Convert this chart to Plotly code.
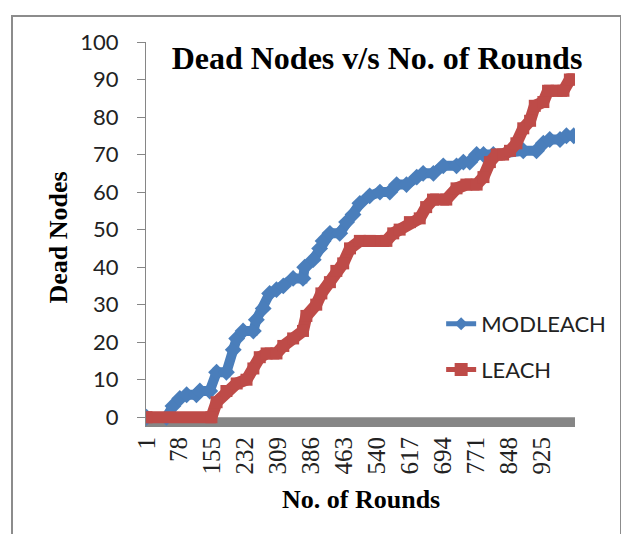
#!/usr/bin/env python3

import plotly.graph_objects as go

# tick labels on the rounds axis
round_ticks = [1, 78, 155, 232, 309, 386, 463, 540, 617, 694, 771, 848, 925]
dead_ticks = [0, 10, 20, 30, 40, 50, 60, 70, 80, 90, 100]

# MODLEACH
modleach_rounds = [1, 48, 63, 79, 95, 118, 126, 149, 165, 188, 204, 212, 227, 251, 258,
                   274, 289, 305, 321, 344, 367, 371, 391, 406, 414, 430, 453, 469, 484,
                   500, 523, 547, 570, 586, 609, 633, 648, 672, 695, 726, 742, 757, 773,
                   789, 812, 882, 913, 929, 944, 968, 983, 1000]
modleach_dead = [0, 0, 3, 5, 6, 6, 7, 7, 12, 12, 18, 21, 23, 23, 26,
                 29, 33, 34, 35, 37, 37, 40, 42, 45, 47, 49, 49, 52, 54,
                 57, 59, 60, 60, 62, 62, 64, 65, 65, 67, 67, 68, 68, 70,
                 70, 70, 71, 71, 73, 74, 74, 75, 75]

# LEACH
leach_rounds = [1, 153, 165, 188, 212, 235, 251, 266, 282, 305, 321, 344, 367, 375, 398,
                410, 430, 445, 461, 477, 500, 523, 562, 578, 593, 617, 640, 655, 671,
                702, 726, 749, 773, 789, 804, 820, 835, 851, 866, 882, 898, 909, 929,
                940, 960, 976, 991, 1000]
leach_dead = [0, 0, 4, 7, 9, 10, 13, 16, 17, 17, 19, 21, 23, 27, 30,
              33, 36, 39, 41, 45, 47, 47, 47, 49, 50, 52, 53, 56, 58,
              58, 61, 62, 62, 64, 68, 70, 70, 71, 73, 77, 79, 83, 84,
              87, 87, 87, 90, 90]

blue = "#4A7EBB"
red = "#BE4B48"
serif = "Liberation Serif"
sans = "Lato"

# the page body has an 8px margin, so the figure is drawn 8px smaller
OFF = 8
W, H = 629 - OFF, 534 - OFF

fig = go.Figure()

fig.add_trace(go.Scatter(
    x=modleach_rounds, y=modleach_dead, mode="lines+markers",
    line=dict(color=blue, width=10),
    marker=dict(symbol="diamond", size=13, color=blue),
    showlegend=False,
))
fig.add_trace(go.Scatter(
    x=leach_rounds, y=leach_dead, mode="lines+markers",
    line=dict(color=red, width=12),
    marker=dict(symbol="square", size=12, color=red),
    showlegend=False,
))

# legend entries (thinner line than the thick data trails)
fig.add_trace(go.Scatter(
    x=[None], y=[None], name="MODLEACH", mode="lines+markers", legendgroup="a",
    line=dict(color=blue, width=5), marker=dict(symbol="diamond", size=10, color=blue),
))
fig.add_trace(go.Scatter(
    x=[None], y=[None], name="LEACH", mode="lines+markers", legendgroup="b",
    line=dict(color=red, width=5), marker=dict(symbol="square", size=13, color=red),
))

fig.update_layout(
    width=W,
    height=H,
    margin=dict(l=146 - OFF, r=54, t=42 - OFF, b=107),
    paper_bgcolor="white",
    plot_bgcolor="white",
    title=dict(
        text="<b>Dead Nodes v/s No. of Rounds</b>",
        font=dict(family=serif, size=32, color="black"),
        x=(377 - OFF) / W, xanchor="center", xref="container",
        y=1 - (58 - OFF) / H, yanchor="middle",
    ),
    xaxis=dict(
        range=[0, 1003],
        tickvals=round_ticks,
        ticktext=[str(t) for t in round_ticks],
        tickangle=-90,
        tickfont=dict(family=serif, size=25, color="#222"),
        showgrid=False,
        zeroline=False,
        showline=False,
        ticks="",
        ticklabelstandoff=4,
    ),
    yaxis=dict(
        range=[-2.6, 100],
        tickvals=dead_ticks,
        tickfont=dict(family=sans, size=22, color="#222"),
        showgrid=False,
        zeroline=False,
        showline=True,
        linecolor="#868686",
        linewidth=1,
        ticks="outside",
        ticklen=8,
        tickcolor="#868686",
        ticklabelstandoff=14,
    ),
    legend=dict(
        x=0.688, y=0.322, xanchor="left", yanchor="top",
        font=dict(family=sans, size=22, color="#222"),
        bgcolor="rgba(0,0,0,0)",
        traceorder="grouped",
        tracegroupgap=14,
    ),
    annotations=[
        dict(text="<b>Dead Nodes</b>", textangle=-90, xref="paper", yref="paper",
             x=(58 - 146) / 429, y=(427 - 237.5) / 385, showarrow=False,
             xanchor="center", yanchor="middle",
             font=dict(family=serif, size=26, color="black")),
        dict(text="<b>No. of Rounds</b>", xref="paper", yref="paper",
             x=(361 - 146) / 429, y=(427 - 499) / 385, showarrow=False,
             xanchor="center", yanchor="middle",
             font=dict(family=serif, size=26, color="black")),
    ],
    shapes=[
        # thick grey floor under the zero line
        dict(type="rect", xref="x domain", yref="y domain",
             x0=0, x1=1, y0=0, y1=2.6 / 102.6,
             fillcolor="#868686", line=dict(width=0), layer="below"),
        # outer chart frame
        dict(type="rect", xref="paper", yref="paper",
             x0=(12 - 146) / 429, x1=(621 - 146) / 429,
             y0=(427 - 560) / 385, y1=(427 - 16) / 385,
             line=dict(color="#8c8c8c", width=2), layer="below"),
    ],
)

fig.write_html("out.html")
